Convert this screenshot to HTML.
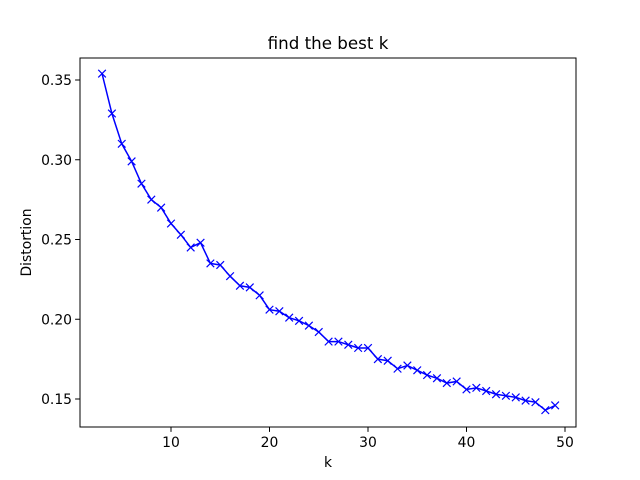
<!DOCTYPE html>
<html><head><meta charset="utf-8"><style>
html,body{margin:0;padding:0;background:#fff;}
svg{display:block;font-family:"DejaVu Sans","Liberation Sans",sans-serif;}
</style></head><body>
<svg id="chart" width="640" height="480" xmlns="http://www.w3.org/2000/svg"></svg>
<script>
const ks = [3,4,5,6,7,8,9,10,11,12,13,14,15,16,17,18,19,20,21,22,23,24,25,26,27,28,29,30,31,32,33,34,35,36,37,38,39,40,41,42,43,44,45,46,47,48,49];
const distortion = [0.354,0.329,0.310,0.299,0.285,0.275,0.270,0.260,0.253,0.245,0.248,0.235,0.234,0.227,0.221,0.220,0.215,0.206,0.205,0.201,0.199,0.196,0.192,0.186,0.186,0.184,0.182,0.182,0.175,0.174,0.169,0.171,0.168,0.165,0.163,0.160,0.161,0.156,0.157,0.155,0.153,0.152,0.151,0.149,0.148,0.143,0.146];
const xTicks = [10,20,30,40,50];
const yTicks = [0.15,0.20,0.25,0.30,0.35];
const yTickLabels = ["0.15","0.20","0.25","0.30","0.35"];

const svg = document.getElementById('chart');
const NS = "http://www.w3.org/2000/svg";
const L=80,R=576,T=58,B=427;
function xs(v){return 171 + (v-10)*9.85;}
function ys(v){return 80 + (0.35-v)*1595;}
function mk(tag, attrs){const e=document.createElementNS(NS,tag);for(const k in attrs)e.setAttribute(k,attrs[k]);svg.appendChild(e);return e;}

const frame = mk('rect',{x:L,y:T,width:R-L,height:B-T,fill:'none',stroke:'#000','stroke-width':1});



xTicks.forEach(t=>{
  const x=xs(t);
  const tk=mk('line',{x1:x,x2:x,y1:B,y2:B+4.9,stroke:'#000'});
  
  
  const tx=mk('text',{x:x,y:B+20,'text-anchor':'middle','font-size':13.9});
  tx.textContent=t;
  
  
});
yTicks.forEach((t,i)=>{
  const y=ys(t);
  const tk=mk('line',{x1:L-4.9,x2:L,y1:y,y2:y,stroke:'#000'});
  
  
  const tx=mk('text',{x:L-8,y:y+5,'text-anchor':'end','font-size':13.9});
  tx.textContent=yTickLabels[i];
  
  
});

const pts = ks.map((k,i)=>xs(k)+','+ys(distortion[i])).join(' ');
const line = mk('polyline',{points:pts,fill:'none',stroke:'#0000ff','stroke-width':1.5});


ks.forEach((k,i)=>{
  const x=xs(k),y=ys(distortion[i]),s=3.8;
  const m=mk('path',{d:`M${x-s},${y-s}L${x+s},${y+s}M${x-s},${y+s}L${x+s},${y-s}`,stroke:'#0000ff','stroke-width':1.2});
  
  
});

const title=mk('text',{x:(L+R)/2,y:T-9,'text-anchor':'middle','font-size':16.7});
title.textContent='find the best k';


const xl=mk('text',{x:(L+R)/2,y:467,'text-anchor':'middle','font-size':13.9});
xl.textContent='k';


const yl=mk('text',{x:31,y:(T+B)/2,'text-anchor':'middle','font-size':13.9,transform:`rotate(-90 31 ${(T+B)/2})`});
yl.textContent='Distortion';


</script>
</body></html>
